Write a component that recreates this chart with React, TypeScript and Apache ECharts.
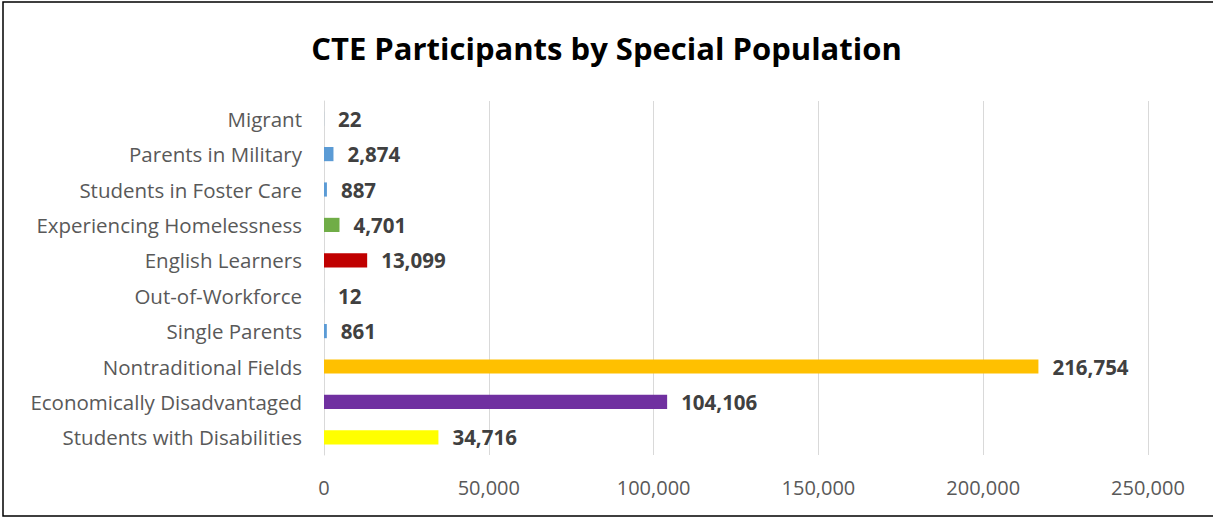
import React, { useEffect, useRef } from "react";
import * as echarts from "echarts";

const categories = [
  "Students with Disabilities",
  "Economically Disadvantaged",
  "Nontraditional Fields",
  "Single Parents",
  "Out-of-Workforce",
  "English Learners",
  "Experiencing Homelessness",
  "Students in Foster Care",
  "Parents in Military",
  "Migrant",
];
const values = [34716, 104106, 216754, 861, 12, 13099, 4701, 887, 2874, 22];
const colors = [
  "#FFFF00",
  "#7030A0",
  "#FFC000",
  "#5B9BD5",
  "#5B9BD5",
  "#C00000",
  "#70AD47",
  "#5B9BD5",
  "#5B9BD5",
  "#5B9BD5",
];
const title = "CTE Participants by Special Population";

export default function App() {
  const ref = useRef<HTMLDivElement>(null);
  useEffect(() => {
    const chart = echarts.init(ref.current!, null, { renderer: "svg" });
    const font = "Open Sans, Noto Sans, sans-serif";
    chart.setOption({
      animation: false,
      backgroundColor: "#fff",
      title: {
        text: title,
        left: "center",
        top: 27,
        textStyle: { fontFamily: font, fontSize: 31, fontWeight: "bold", color: "#000" },
      },
      graphic: [
        {
          type: "rect",
          shape: { x: 3, y: 2, width: 1230, height: 514 },
          style: { fill: "none", stroke: "#000", lineWidth: 1.5 },
          silent: true,
        },
      ],
      grid: { left: 324, right: 65, top: 101, bottom: 64, containLabel: false },
      xAxis: {
        type: "value",
        min: 0,
        max: 250000,
        interval: 50000,
        axisLine: { show: false },
        axisTick: { show: false },
        splitLine: { lineStyle: { color: "#D9D9D9", width: 1 } },
        axisLabel: {
          fontFamily: font,
          fontSize: 20,
          color: "#595959",
          margin: 22,
          formatter: (v: number) => v.toLocaleString("en-US"),
        },
      },
      yAxis: {
        type: "category",
        data: categories,
        axisLine: { show: true, lineStyle: { color: "#D9D9D9" } },
        axisTick: { show: false },
        axisLabel: { fontFamily: font, fontSize: 20.5, color: "#595959", margin: 22 },
      },
      series: [
        {
          type: "bar",
          barWidth: "40%",
          data: values.map((v, i) => ({ value: v, itemStyle: { color: colors[i] } })),
          label: {
            show: true,
            position: "right",
            distance: 14,
            fontFamily: font,
            fontSize: 20.5,
            fontWeight: "bold",
            color: "#404040",
            formatter: (p: any) => Number(p.value).toLocaleString("en-US"),
          },
        },
      ],
    });
    return () => chart.dispose();
  }, []);
  return (
    <div style={{ position: "absolute", left: 0, top: 0, width: 1213, height: 519 }}>
      <div ref={ref} style={{ width: 1213, height: 519 }} />
    </div>
  );
}
